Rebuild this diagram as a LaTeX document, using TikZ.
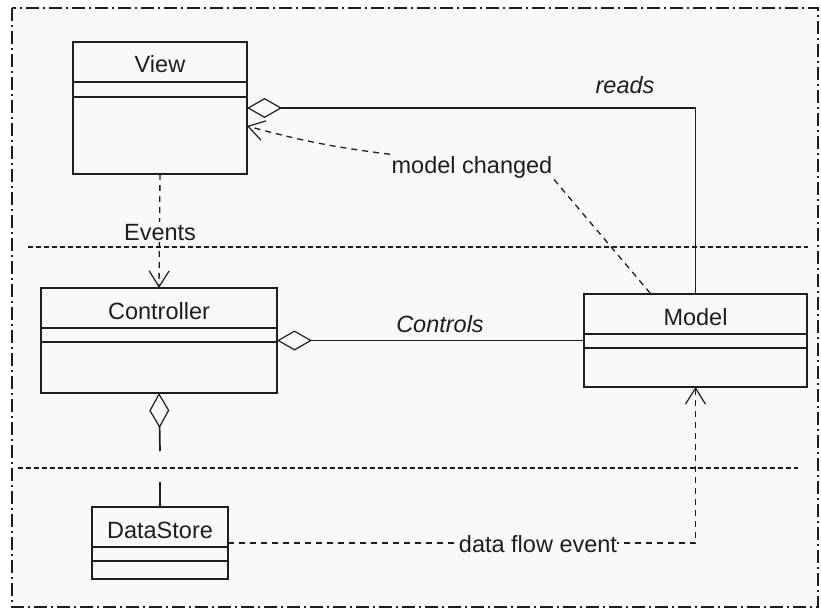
\documentclass[tikz,border=0pt]{standalone}
\usepackage{fontspec}
\setmainfont{Liberation Sans}
\usetikzlibrary{arrows.meta,calc}

\definecolor{ink}{HTML}{1E1E1E}
\definecolor{paper}{HTML}{F9F9F9}

\tikzset{
  classbox/.style={draw=ink, line width=1.6pt, fill=paper, inner sep=0pt, outer sep=0pt},
  divider/.style={draw=ink, line width=1.6pt},
  lbl/.style={text=ink, font=\fontsize{23.5}{27}\selectfont, inner sep=1.5pt, anchor=base},
  ilbl/.style={lbl, font=\fontsize{23.5}{27}\selectfont\itshape},
  solidlink/.style={draw=ink, line width=1.7pt},
  dashlink/.style={draw=ink, line width=1.3pt, dash pattern=on 6pt off 5pt},
  separator/.style={draw=ink, line width=1.2pt, dash pattern=on 5pt off 3pt},
  frameline/.style={draw=ink, line width=1.6pt, dash pattern=on 13pt off 4pt on 2pt off 4pt},
  agg/.style={{Diamond[open, length=35pt, width=20pt, line width=1.2pt]}-},
  dep/.style={-{Straight Barb[length=16pt, width=20pt, line width=1.2pt]}},
}

% class box: name, centre, width, height, title, second divider offset
\newcommand{\umlclass}[6]{%
  \node[classbox, minimum width=#3pt, minimum height=#4pt] (#1) at (#2) {};
  \draw[divider] ($(#1.north west)+(0,40)$) -- ($(#1.north east)+(0,40)$);
  \draw[divider] ($(#1.north west)+(0,#6)$) -- ($(#1.north east)+(0,#6)$);
  \node[lbl] (#1-name) at ($(#1.north)+(0,31)$) {#5};
}

\begin{document}
\begin{tikzpicture}[x=1pt, y=-1pt]
  \useasboundingbox (0,0) rectangle (821,610);
  \fill[white] (0,0) rectangle (821,610);

  % package frame
  \fill[paper] (12,8) rectangle (818,607);
  \draw[frameline] (12,8) rectangle (818,607);

  % layer separators
  \draw[separator] (28,247) -- (808,247);
  \draw[separator] (18,468) -- (798,468);

  % classes
  \umlclass{view}{160,108}{174}{132}{View}{55}
  \umlclass{ctrl}{159,340.5}{236}{105}{Controller}{54}
  \umlclass{model}{695.5,340.5}{223}{93}{Model}{54}
  \umlclass{ds}{160,543}{136}{72}{DataStore}{54}

  % View reads Model
  \draw[solidlink, agg] (view.east) -| (model.north);
  \node[ilbl] (reads) at (625,93) {reads};

  % Model notifies View
  \node[lbl] (mc) at (472,173) {model changed};
  \draw[dashlink, dep] (mc.north west) to[bend left=4] ($(view.east)+(0,18)$);
  \draw[dashlink] (mc.south east) -- ($(model.north west)!0.3!(model.north east)$);

  % View sends events to Controller
  \draw[dashlink, dep] (view.south) -- (ctrl.north);
  \node[lbl, fill=paper] (ev) at (160,240) {Events};

  % Controller controls Model
  \draw[solidlink, agg] (ctrl.east) -- (model.west);
  \node[ilbl] (controls) at (440,332) {Controls};

  % Controller owns DataStore
  \coordinate (aggEnd) at (160,451);
  \coordinate (aggStart) at (160,482);
  \draw[solidlink, agg] (ctrl.south) -- (aggEnd);
  \draw[solidlink] (aggStart) -- (ds.north);

  % DataStore feeds Model
  \draw[dashlink, dep] (ds.east) -| (model.south);
  \node[lbl, fill=paper, inner sep=0.3pt] (dfe) at (538,552) {data flow event};
\end{tikzpicture}
\end{document}
